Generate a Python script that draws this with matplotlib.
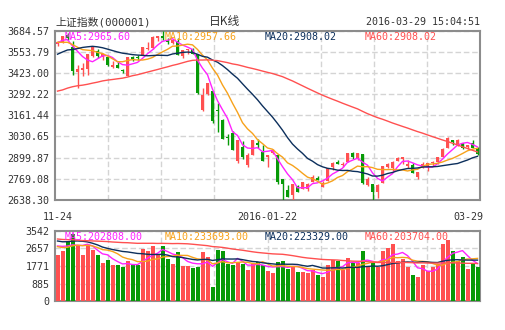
import numpy as np
import pandas as pd
import matplotlib
matplotlib.use("Agg")
import matplotlib.pyplot as plt
import matplotlib.transforms as mtransforms

# daily K data, 2015-11-24 .. 2016-03-29
dates = ['11-24', '11-25', '11-26', '11-27', '11-30',
         '12-01', '12-02', '12-03', '12-04', '12-07', '12-08', '12-09', '12-10', '12-11',
         '12-14', '12-15', '12-16', '12-17', '12-18', '12-21', '12-22', '12-23', '12-24',
         '12-25', '12-28', '12-29', '12-30', '12-31',
         '2016-01-04', '01-05', '01-06', '01-07', '01-08', '01-11', '01-12', '01-13', '01-14',
         '01-15', '01-18', '01-19', '01-20', '01-21', '2016-01-22', '01-25', '01-26', '01-27',
         '01-28', '01-29',
         '02-01', '02-02', '02-03', '02-04', '02-05', '02-15', '02-16', '02-17', '02-18',
         '02-19', '02-22', '02-23', '02-24', '02-25', '02-26', '02-29',
         '03-01', '03-02', '03-03', '03-04', '03-07', '03-08', '03-09', '03-10', '03-11',
         '03-14', '03-15', '03-16', '03-17', '03-18', '03-21', '03-22', '03-23', '03-24',
         '03-25', '03-28', '03-29']
opens = [3601, 3614, 3659, 3580, 3427,
         3442, 3450, 3525, 3558, 3519, 3518, 3459, 3469, 3441,
         3404, 3521, 3520, 3531, 3571, 3579, 3641, 3649, 3627,
         3608, 3621, 3525, 3567, 3571,
         3537, 3196, 3291, 3309, 3195, 3131, 3030, 3050, 2880,
         2965, 2854, 2917, 2990, 2934, 2906, 2929, 2914, 2766,
         2701, 2667,
         2722, 2709, 2709, 2749, 2777, 2720, 2758, 2840, 2873,
         2852, 2871, 2929, 2896, 2920, 2731, 2734,
         2685, 2741, 2843, 2836, 2881, 2890, 2850, 2855, 2780,
         2834, 2847, 2865, 2870, 2906, 2962, 3008, 2987, 2990,
         2963, 2990, 2955]
highs = [3622, 3648, 3669, 3621, 3470,
         3483, 3538, 3586, 3568, 3543, 3520, 3495, 3490, 3447,
         3521, 3529, 3534, 3583, 3612, 3652, 3652, 3684, 3641,
         3635, 3640, 3564, 3573, 3576,
         3539, 3329, 3362, 3309, 3235, 3137, 3044, 3067, 3011,
         3000, 2930, 3008, 3016, 2980, 2916, 2952, 2920, 2769,
         2733, 2740,
         2730, 2750, 2741, 2794, 2786, 2758, 2837, 2870, 2887,
         2871, 2928, 2932, 2929, 2922, 2781, 2735,
         2739, 2850, 2869, 2877, 2905, 2901, 2885, 2864, 2813,
         2870, 2865, 2882, 2905, 2959, 3026, 3009, 3012, 2993,
         2980, 3008, 2966]
lows = [3588, 3605, 3629, 3412, 3327,
        3402, 3407, 3518, 3513, 3505, 3466, 3456, 3455, 3421,
        3401, 3494, 3505, 3531, 3564, 3572, 3618, 3627, 3601,
        3604, 3533, 3515, 3538, 3538,
        3295, 3189, 3288, 3116, 3056, 3016, 2980, 2949, 2867,
        2894, 2844, 2913, 2961, 2880, 2839, 2921, 2739, 2638,
        2655, 2638,
        2686, 2709, 2695, 2749, 2760, 2718, 2758, 2824, 2862,
        2841, 2871, 2893, 2884, 2736, 2726, 2638,
        2651, 2741, 2836, 2818, 2879, 2858, 2835, 2805, 2765,
        2834, 2815, 2851, 2860, 2906, 2962, 2980, 2972, 2955,
        2951, 2957, 2914]
closes = [3616, 3648, 3636, 3436, 3445,
          3456, 3537, 3585, 3525, 3537, 3470, 3472, 3456, 3435,
          3521, 3510, 3516, 3580, 3579, 3642, 3652, 3636, 3612,
          3628, 3534, 3564, 3573, 3539,
          3296, 3288, 3362, 3125, 3186, 3017, 3023, 2950, 3008,
          2901, 2914, 3008, 2977, 2880, 2917, 2939, 2750, 2736,
          2656, 2738,
          2689, 2750, 2739, 2781, 2763, 2746, 2837, 2867, 2863,
          2860, 2927, 2903, 2929, 2741, 2767, 2688,
          2733, 2850, 2860, 2874, 2897, 2901, 2863, 2805, 2810,
          2860, 2864, 2870, 2905, 2955, 3018, 2999, 3010, 2961,
          2979, 2958, 2920]
volumes = [2311, 2514, 2986, 3400, 2851,
           2311, 2817, 2564, 2311, 1923, 2075, 1839, 1839, 1704,
           2024, 1822, 1822, 2632, 2514, 2767, 2345, 2767, 2126,
           1889, 2463, 1754, 1788, 1687,
           1721, 2463, 2210, 692, 2598, 2547, 1873, 1805, 1957,
           1873, 1569, 1873, 1991, 1805, 1520, 1410, 1960, 2010,
           1610, 1730,
           1460, 1460, 1410, 1560, 1300, 1200, 1810, 2070, 2020,
           1560, 2200, 1980, 1900, 2530, 1730, 1900,
           1730, 2530, 2700, 2880, 2020, 2150, 1730, 1300, 1200,
           1810, 1510, 1700, 1860, 2880, 3085, 2530, 2020, 2240,
           1610, 1900, 1730]

# the 59 sessions before 11-24, only needed for the moving averages
pre_closes = [3209.91, 2964.97, 2927.29, 3083.59, 3232.35, 3205.99,
              3166.62, 3160.17, 3080.42, 3170.45, 3243.09, 3197.89, 3200.23, 3114.80,
              3005.17, 3152.26, 3086.06, 3097.92, 3156.54, 3185.62, 3115.89, 3142.69,
              3092.35, 3100.76, 3038.14, 3052.78,
              3143.36, 3183.15, 3287.66, 3293.23, 3262.44, 3338.07, 3391.35, 3386.70,
              3425.33, 3320.68, 3368.74, 3412.43, 3429.58, 3434.34, 3375.20, 3387.32,
              3382.56,
              3325.08, 3316.70, 3459.64, 3522.82, 3590.03, 3646.88, 3640.49, 3650.25,
              3632.90, 3580.84, 3606.96, 3604.80, 3568.47, 3617.06, 3630.50, 3610.31]
pre_volumes = [3900, 3500, 3800, 3700, 3900, 3300,
               3200, 2900, 2600, 2800, 3100, 2700, 2600, 2400, 2800, 2700,
               2500, 2600, 2700, 2800, 2600, 2400, 2300, 2200, 2100, 2300,
               3000, 3200, 3900, 3700, 3400, 3600, 4100, 4200, 4300, 3900,
               3700, 3900, 4200, 4000,
               3300, 2900, 2800, 2700, 2600, 3500, 3900, 4000, 4100, 3400,
               3000, 2800, 2700, 2500, 2600,
               2600, 2900, 3100, 3000]

price_ticks = [2638.30, 2769.08, 2899.87, 3030.65, 3161.44, 3292.22, 3423.00, 3553.79, 3684.57]
vol_ticks = [0, 885, 1771, 2657, 3542]
xlabels = ['11-24', '2016-01-22', '03-29']

ma_days = [5, 10, 20, 60]
ma_colors = ['#ff22ff', '#f7a21b', '#0c2f5c', '#ff5050']
price_ma_text = ['MA5:2965.60', 'MA10:2957.66', 'MA20:2908.02', 'MA60:2908.02']
vol_ma_text = ['MA5:202808.00', 'MA10:233693.00', 'MA20:223329.00', 'MA60:203704.00']

UP = '#ff5050'
DOWN = '#079a07'
GRID = '#d4d4d4'
FRAME = '#8c8c8c'
TXT = '#333333'
MONO = ['DejaVu Sans Mono', 'Noto Sans CJK SC']

W, H = 505, 330
def fx(x):
    return x / W
def fy(y):
    return 1 - y / H

fig = plt.figure(figsize=(W / 100, H / 100), dpi=100, facecolor='white')
ax = fig.add_axes([fx(55), fy(200), fx(425), 169.5 / H])
axv = fig.add_axes([fx(55), fy(301), fx(425), 70 / H])

n = len(closes)
x = np.arange(n)
o = np.array(opens, float)
c = np.array(closes, float)
up = c >= o
cols = np.where(up, UP, DOWN)

all_c = pd.Series(pre_closes + closes, dtype=float)
all_v = pd.Series(pre_volumes + volumes, dtype=float)
npre = len(pre_closes)

# candles
ax.vlines(x, lows, highs, colors=cols, lw=1, zorder=3)
body_lo = np.minimum(o, c)
body_h = np.maximum(np.abs(c - o), 2.5)
ax.bar(x, body_h, bottom=body_lo, width=0.72, color=cols, lw=0, zorder=4)
for d, col in zip(ma_days, ma_colors):
    ma = all_c.rolling(d).mean().iloc[npre:].values
    ax.plot(x, ma, color=col, lw=1, zorder=5)

# volume
axv.bar(x, volumes, width=0.8, color=cols, lw=0, zorder=3)
for d, col in zip(ma_days, ma_colors):
    ma = all_v.rolling(d).mean().iloc[npre:].values
    axv.plot(x, ma, color=col, lw=1, zorder=5)

for a in (ax, axv):
    a.set_xlim(-0.5, n - 0.5)
    a.set_xticks(np.linspace(-0.5, n - 0.5, 9)[1:-1], minor=True)
    a.grid(which='minor', axis='x', color=GRID, ls=(0, (4, 2)), lw=1)
    a.grid(which='major', axis='y', color=GRID, ls=(0, (4, 2)), lw=1)
    a.tick_params(which='both', length=0, labelsize=7.2, colors=TXT, pad=4)
    for s in a.spines.values():
        s.set_color(FRAME)
        s.set_linewidth(1.5)
    a.set_axisbelow(True)

ax.set_ylim(price_ticks[0], price_ticks[-1])
ax.set_yticks(price_ticks)
ax.set_yticklabels(['%.2f' % v for v in price_ticks], family=MONO)
ax.set_xticks([0, 42, n - 1])
ax.set_xticklabels(xlabels, family=MONO)
ax.tick_params(axis='x', pad=9)
last = ax.get_xticklabels()[-1]
last.set_ha('right')
last.set_transform(last.get_transform() + mtransforms.ScaledTranslation(6 / 100, 0, fig.dpi_scale_trans))

axv.set_ylim(vol_ticks[0], vol_ticks[-1])
axv.set_yticks(vol_ticks)
axv.set_yticklabels([str(v) for v in vol_ticks], family=MONO)
axv.set_xticks([])

# header
fig.text(fx(55), fy(22), '上证指数(000001)', family=MONO, fontsize=7.8, color=TXT, va='center')
fig.text(fx(225), fy(22), '日K线', family=['Noto Sans CJK SC'], fontsize=8.5, color=TXT,
         va='center', ha='center')
fig.text(fx(480), fy(22), '2016-03-29 15:04:51', family=MONO, fontsize=7.2, color=TXT,
         va='center', ha='right')

for i, col in enumerate(ma_colors):
    fig.text(fx(65 + 100 * i), fy(37), price_ma_text[i], family=MONO, fontsize=7.2,
             color=col, va='center', zorder=10)
    fig.text(fx(65 + 100 * i), fy(237), vol_ma_text[i], family=MONO, fontsize=7.2,
             color=col, va='center', zorder=10)

fig.savefig('out.png', dpi=100, facecolor='white')
